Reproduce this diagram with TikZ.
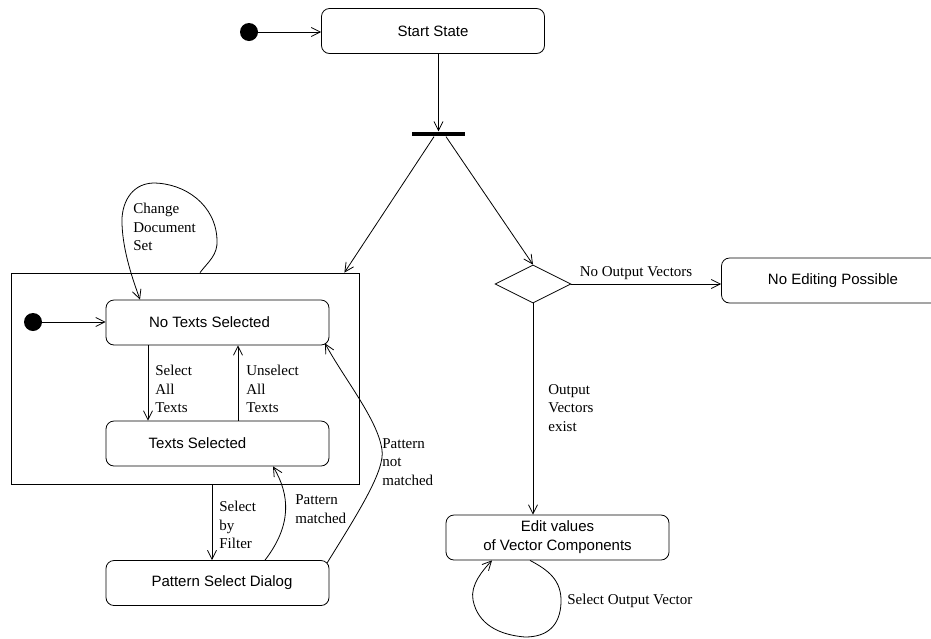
\documentclass[tikz,border=0pt]{standalone}
\usepackage{fontspec}
\setmainfont{Liberation Serif}
\setsansfont{Liberation Sans}
\usetikzlibrary{arrows.meta,shapes.geometric}
\begin{document}
\begin{tikzpicture}[x=1pt,y=-1pt,line width=0.8pt,
  state/.style={draw,rounded corners=8pt,minimum width=223pt,minimum height=45pt,
    inner sep=0pt,font=\sffamily\fontsize{15}{19}\selectfont},
  initdot/.style={circle,fill,inner sep=0pt,minimum size=18pt},
  trans/.style={-{Straight Barb[length=9pt,width=9pt]}},
  lab/.style={font=\fontsize{15}{18.5}\selectfont,align=left,inner sep=0pt,anchor=west}]
\useasboundingbox (0,0) rectangle (931,638);
\clip (0,0) rectangle (931,638);

% top level
\node[initdot] (init1) at (249,32) {};
\node[state] (start) at (433,31) {Start State};
\node[fill,inner sep=0pt,minimum width=53pt,minimum height=4.5pt] (fork) at (438.5,134) {};

% composite state with its substates
\node[draw,inner sep=0pt,minimum width=348pt,minimum height=211pt] (comp) at (185,378.5) {};
\node[initdot] (init2) at (33,322) {};
\node[state] (nts) at (217.5,322.5) {No Texts Selected\hspace*{16pt}};
\node[state] (ts) at (217.5,443.5) {Texts Selected\hspace*{40pt}};
\node[state] (psd) at (217.5,583) {\hspace*{9pt}Pattern Select Dialog};

% right branch
\node[draw,diamond,inner sep=0pt,minimum width=76pt,minimum height=38pt] (dec) at (533,284) {};
\node[state] (nep) at (833,280.5) {No Editing Possible};
\node[state,align=center] (edit) at (557.5,537.5) {Edit values\\of Vector Components};

% transitions
\draw[trans] (init1.east) -- (init1.east -| start.west);
\draw[trans] (fork.north |- start.south) -- (fork.north);
\draw[trans] ([xshift=-4.5pt]fork.south) -- ([xshift=-15pt]comp.north east);
\draw[trans] ([xshift=7.5pt]fork.south) -- (dec.north);
\draw[trans] (dec.east) -- (dec.east -| nep.west);
\draw[trans] (dec.south) -- (dec.south |- edit.north);
\draw[trans] (init2.east) -- (init2.east -| nts.west);
\draw[trans] ([xshift=-69.5pt]nts.south) -- ([xshift=-69.5pt]ts.north);
\draw[trans] ([xshift=20.5pt]ts.north) -- ([xshift=20.5pt]nts.south);
\draw[trans] ([xshift=-5.5pt]psd.north |- comp.south) -- ([xshift=-5.5pt]psd.north);

% curved transitions
\draw[trans] ([xshift=47.5pt]psd.north) .. controls (292,525) and (290,495) .. ([xshift=55.5pt]ts.south);
\coordinate (nm) at (382,450);
\draw[trans] ([xshift=109.5pt,yshift=-3pt]psd.north) .. controls (360,510) and (385,470) .. (nm)
  .. controls (378,420) and (345,380) .. ([xshift=107.5pt,yshift=2pt]nts.south);

% self loop on the composite state
\coordinate (c1) at (217,240);
\coordinate (c2) at (153,183);
\coordinate (c3) at (122,224);
\draw[trans] ([xshift=15pt]comp.north) .. controls (208,262) and (218,255) .. (c1)
  .. controls (216,205) and (185,183) .. (c2)
  .. controls (130,184) and (121,205) .. (c3)
  .. controls (123,252) and (133,280) .. ([xshift=-77.5pt]nts.north);

% self loop on the edit state
\coordinate (e1) at (561,603);
\coordinate (e2) at (525,637);
\coordinate (e3) at (473,600);
\draw[trans] ([xshift=-27.5pt]edit.south) .. controls (548,570) and (562,580) .. (e1)
  .. controls (560,625) and (548,637) .. (e2)
  .. controls (500,635) and (478,625) .. (e3)
  .. controls (470,585) and (483,570) .. ([xshift=-65.5pt]edit.south);

% transition labels
\node[lab] (lchange) at (133,227) {Change\\Document\\Set};
\node[lab] (lsel) at (155,389) {Select\\All\\Texts};
\node[lab] (lunsel) at (246,389) {Unselect\\All\\Texts};
\node[lab] (lfilter) at (219,525) {Select\\by\\Filter};
\node[lab] (lmatch) at (295,509) {Pattern\\matched};
\node[lab] (lnot) at (382,462) {Pattern\\not\\matched};
\node[lab,anchor=center] (lnoout) at (636,273) {No Output Vectors};
\node[lab] (lexist) at (548,408) {Output\\Vectors\\exist};
\node[lab] (lselout) at (567,601) {Select Output Vector};
\end{tikzpicture}
\end{document}
